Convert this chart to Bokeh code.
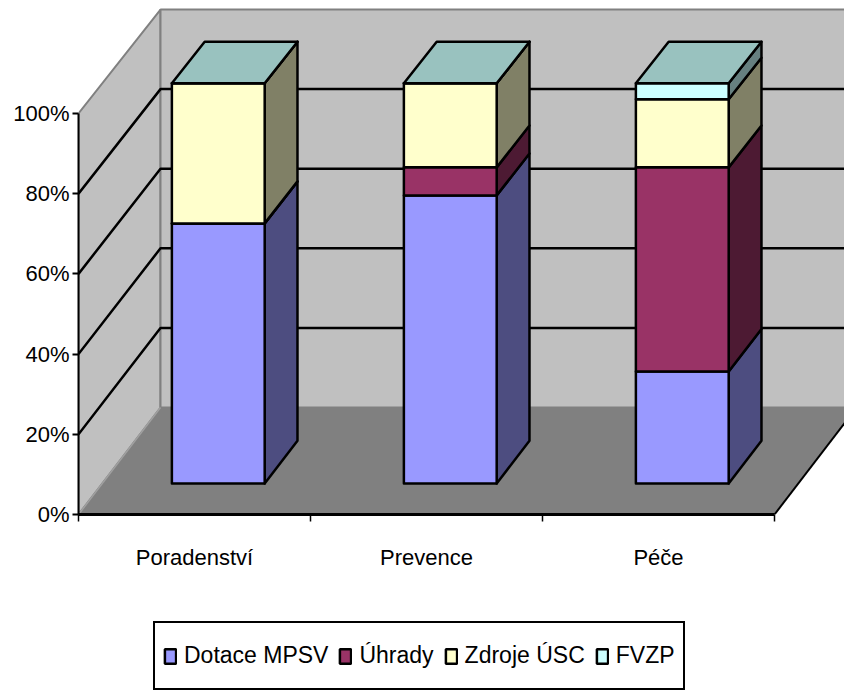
from bokeh.plotting import figure
from bokeh.layouts import column
from bokeh.models import Range1d, LinearAxis, FixedTicker, Legend, LegendItem
from bokeh.embed import file_html
from bokeh.resources import INLINE

categories = ["Poradenství", "Prevence", "Péče"]
series_names = ["Dotace MPSV", "Úhrady", "Zdroje ÚSC", "FVZP"]
dotace = [65, 72, 28]
uhrady = [0, 7, 51]
zdroje = [35, 21, 17]
fvzp = [0, 0, 4]
percent_ticks = [0, 20, 40, 60, 80, 100]

front_colors = ["#9999FF", "#993366", "#FFFFCC", "#CCFFFF"]
side_colors = ["#4D4D80", "#4D1A33", "#808066", "#668080"]
TOP = "#99C2BF"
FONT = "Liberation Sans"

UX, UY = 232.0, 4.01
DX, DY = 82 / UX, 107 / UY
D1, D2 = 0.29, 0.69
BAR = 0.4
SHRINK = 0.0075


def pr(x, v, d):
    return x + d * DX, v * (1 - SHRINK * d) + d * DY


def poly(*pts):
    c = [pr(*q) for q in pts]
    return [a for a, _ in c], [b for _, b in c]


XMAX = (844 - 78) / UX
YMAX = 514 / UY
NC = len(categories)
p = figure(width=844, height=620, output_backend="svg", toolbar_location=None,
           x_range=Range1d(0, XMAX), y_range=Range1d(0, YMAX),
           x_axis_location=None, y_axis_location=None,
           min_border_left=78, min_border_right=0, min_border_top=0, min_border_bottom=106)
p.outline_line_color = None
p.grid.visible = False
p.background_fill_color = "white"

# walls and floor
WR = NC + 1  # right extent in category units, clipped by the frame
x, y = poly((0, 0, 0), (0, 100, 0), (0, 100, 1), (0, 0, 1))
p.patch(x, y, fill_color="#C0C0C0", line_color="#808080", line_width=2)
x, y = poly((0, 0, 1), (0, 100, 1), (WR, 100, 1), (WR, 0, 1))
p.patch(x, y, fill_color="#C0C0C0", line_color="#808080", line_width=2)
x, y = poly((0, 0, 0), (0, 0, 1), (NC, 0, 1), (NC, 0, 0))
p.patch(x, y, fill_color="#808080", line_color=None)
x, y = poly((0, 0, 0), (0, 0, 1))
p.line(x, y, line_color="#A0A0A0", line_width=1.5)
x, y = poly((NC, 0, 0), (NC, 0, 1))
p.line(x, y, line_color="black", line_width=2)

# gridlines
for t in percent_ticks[1:-1]:
    x, y = poly((0, t, 0), (0, t, 1), (WR, t, 1))
    p.line(x, y, line_color="black", line_width=2.5)

# stacked 3-D bars
stacks = [dotace, uhrady, zdroje, fvzp]
for s, vals in enumerate(stacks):
    fx, fy = [], []
    for c in range(NC):
        base = sum(stacks[k][c] for k in range(s))
        top = base + vals[c]
        l, r = c + 0.5 - BAR / 2, c + 0.5 + BAR / 2
        sx, sy = poly((r, base, D1), (r, top, D1), (r, top, D2), (r, base, D2))
        p.patch(sx, sy, fill_color=side_colors[s], line_color="black", line_width=2.5, line_join="round")
        a, b = poly((l, base, D1), (l, top, D1), (r, top, D1), (r, base, D1))
        fx.append(a)
        fy.append(b)
    p.patches(fx, fy, fill_color=front_colors[s], line_color="black", line_width=2.5, line_join="round")
for c in range(NC):
    l, r = c + 0.5 - BAR / 2, c + 0.5 + BAR / 2
    tx, ty = poly((l, 100, D1), (l, 100, D2), (r, 100, D2), (r, 100, D1))
    p.patch(tx, ty, fill_color=TOP, line_color="black", line_width=2.5, line_join="round")

# axes
ya = LinearAxis(ticker=FixedTicker(ticks=percent_ticks), bounds=(0, 100))
ya.major_label_overrides = {t: f"{t}%" for t in percent_ticks}
ya.major_label_text_font = FONT
ya.major_label_text_font_size = "22px"
ya.major_label_text_color = "black"
ya.major_tick_in = 0
ya.major_tick_out = 6
ya.major_tick_line_width = 2
ya.minor_tick_line_color = None
ya.axis_line_width = 2
ya.major_label_standoff = 3
p.add_layout(ya, "left")

xa = LinearAxis(ticker=FixedTicker(ticks=[c + 0.5 for c in range(NC)], minor_ticks=list(range(NC + 1))),
                bounds=(0, NC))
xa.major_label_overrides = {c + 0.5: n for c, n in enumerate(categories)}
xa.major_label_text_font = FONT
xa.major_label_text_font_size = "22px"
xa.major_label_text_color = "black"
xa.major_tick_line_color = None
xa.minor_tick_in = 0
xa.minor_tick_out = 7
xa.minor_tick_line_width = 1.5
xa.axis_line_width = 3
xa.major_label_standoff = 23
p.add_layout(xa, "below")

# legend strip: a second figure, so that the box can sit below the axis labels
q = figure(width=844, height=71, output_backend="svg", toolbar_location=None,
           x_range=Range1d(0, 1), y_range=Range1d(0, 1),
           x_axis_location=None, y_axis_location=None,
           min_border_left=78, min_border_right=0, min_border_top=0, min_border_bottom=0)
q.outline_line_color = None
q.grid.visible = False
# swatch glyphs lie outside the strip's range: only their legend keys show
swatches = [q.quad(left=[2], right=[3], top=[3], bottom=[2], fill_color=col, line_color="black", line_width=2.5)
            for col in front_colors]
legend = Legend(items=[LegendItem(label=n, renderers=[r]) for n, r in zip(series_names, swatches)],
                orientation="horizontal", location=(75, 1), margin=0, padding=8, spacing=10,
                glyph_width=14, glyph_height=18, label_standoff=7, label_height=49,
                label_text_font=FONT, label_text_font_size="23px", label_text_color="black",
                border_line_color="black", border_line_alpha=1, border_line_width=2.5, background_fill_alpha=1)
q.add_layout(legend)

layout = column(p, q, spacing=0)
open("out.html", "w").write(file_html(layout, INLINE))
